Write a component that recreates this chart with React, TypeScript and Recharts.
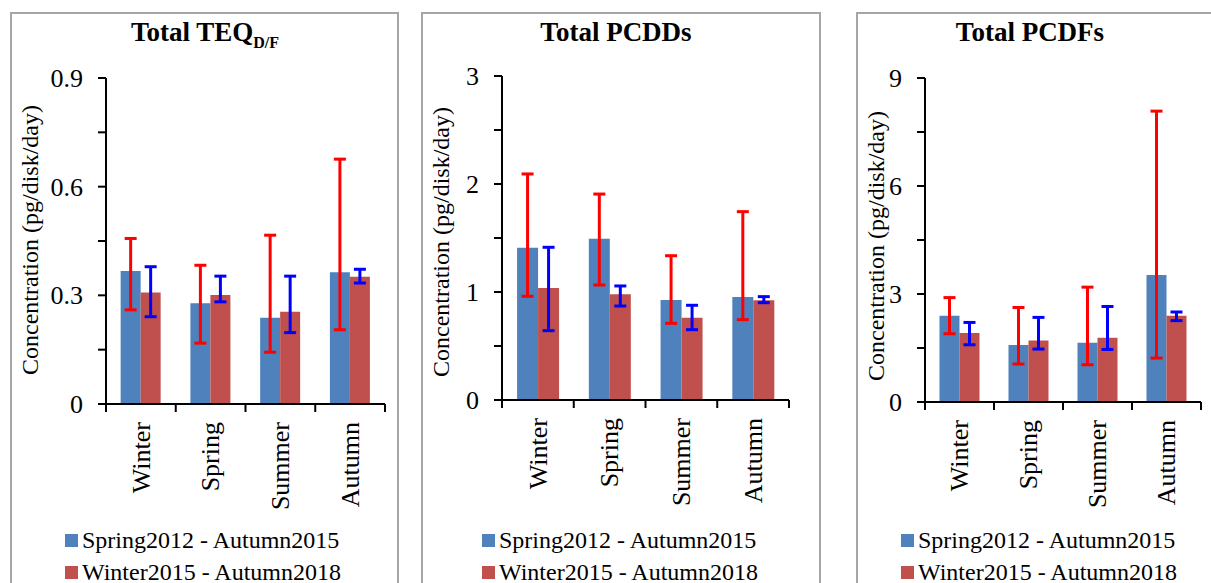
import React from 'react'
import { Bar, BarChart, ErrorBar, Legend, XAxis, YAxis } from 'recharts'

const SEASONS = ['Winter', 'Spring', 'Summer', 'Autumn']
const SERIES_NAMES = ['Spring2012 - Autumn2015', 'Winter2015 - Autumn2018']
const Y_TITLE = 'Concentration (pg/disk/day)'

// Total TEQ D/F
const TEQ_EARLY = [0.367, 0.278, 0.238, 0.364]
const TEQ_EARLY_LOW = [0.26, 0.168, 0.143, 0.205]
const TEQ_EARLY_HIGH = [0.457, 0.383, 0.466, 0.676]
const TEQ_LATE = [0.308, 0.301, 0.255, 0.351]
const TEQ_LATE_LOW = [0.241, 0.282, 0.197, 0.334]
const TEQ_LATE_HIGH = [0.379, 0.353, 0.353, 0.372]
const TEQ_TICKS = [0, 0.15, 0.3, 0.45, 0.6, 0.75, 0.9]

// Total PCDDs
const PCDD_EARLY = [1.41, 1.494, 0.926, 0.954]
const PCDD_EARLY_LOW = [0.96, 1.065, 0.71, 0.744]
const PCDD_EARLY_HIGH = [2.093, 1.907, 1.336, 1.744]
const PCDD_LATE = [1.037, 0.979, 0.762, 0.923]
const PCDD_LATE_LOW = [0.642, 0.87, 0.651, 0.901]
const PCDD_LATE_HIGH = [1.414, 1.056, 0.877, 0.957]
const PCDD_TICKS = [0, 0.5, 1, 1.5, 2, 2.5, 3]

// Total PCDFs
const PCDF_EARLY = [2.395, 1.58, 1.645, 3.53]
const PCDF_EARLY_LOW = [1.895, 1.054, 1.035, 1.22]
const PCDF_EARLY_HIGH = [2.9, 2.625, 3.19, 8.08]
const PCDF_LATE = [1.914, 1.71, 1.784, 2.395]
const PCDF_LATE_LOW = [1.59, 1.47, 1.46, 2.26]
const PCDF_LATE_HIGH = [2.21, 2.35, 2.653, 2.5]
const PCDF_TICKS = [0, 1.5, 3, 4.5, 6, 7.5, 9]

const BLUE = '#4f81bd'
const RED = '#c0504d'
const CHART_H = 580
const FONT = '"Liberation Serif", "Times New Roman", serif'

function buildRows(
  early: number[],
  earlyLow: number[],
  earlyHigh: number[],
  late: number[],
  lateLow: number[],
  lateHigh: number[],
) {
  return SEASONS.map((season, i) => ({
    season,
    early: early[i],
    earlyErr: [early[i] - earlyLow[i], earlyHigh[i] - early[i]],
    late: late[i],
    lateErr: [late[i] - lateLow[i], lateHigh[i] - late[i]],
  }))
}

function SeasonTick(props: any) {
  const { x, y, payload, index, visibleTicksCount, width } = props
  const half = payload.offset ? payload.offset : width / visibleTicksCount / 2
  const ty = y + 18
  return (
    <g>
      <line x1={x - half} x2={x - half} y1={y} y2={y + 8} stroke="#000" strokeWidth={2} />
      {index === visibleTicksCount - 1 && (
        <line x1={x + half} x2={x + half} y1={y} y2={y + 8} stroke="#000" strokeWidth={2} />
      )}
      <text
        x={x}
        y={ty}
        transform={`rotate(-90, ${x}, ${ty})`}
        textAnchor="end"
        dy="0.34em"
        fontSize={26}
        fontFamily={FONT}
        fill="#000"
      >
        {payload.value}
      </text>
    </g>
  )
}

function ValueTick(props: any) {
  const { x, y, payload, index } = props
  if (index % 2 !== 0) return null
  return (
    <text
      x={x}
      y={y}
      textAnchor="end"
      dy="0.34em"
      fontSize={26}
      fontFamily={FONT}
      fill="#000"
    >
      {String(payload.value)}
    </text>
  )
}

function YTitle(props: any) {
  const { viewBox, cx, shift, fallbackTop, fallbackBottom } = props
  const top = viewBox && viewBox.height ? viewBox.y : fallbackTop
  const h = viewBox && viewBox.height ? viewBox.height : fallbackBottom - fallbackTop
  const cy = top + h / 2 + shift
  return (
    <text
      x={cx}
      y={cy}
      transform={`rotate(-90, ${cx}, ${cy})`}
      textAnchor="middle"
      dy="0.34em"
      fontSize={24}
      fontFamily={FONT}
      fill="#000"
    >
      {Y_TITLE}
    </text>
  )
}

function renderLegend(props: any) {
  const items = props.payload || []
  return (
    <div style={{ fontFamily: FONT }}>
      {items.map((entry: any) => (
        <div
          key={entry.value}
          style={{
            display: 'flex',
            alignItems: 'center',
            height: 32,
            fontSize: 24,
            fontFamily: FONT,
            color: '#000',
            whiteSpace: 'nowrap',
          }}
        >
          <span style={{ width: 13, height: 13, background: entry.color, marginRight: 4 }} />
          {entry.value}
        </div>
      ))}
    </div>
  )
}

interface PanelProps {
  left: number
  width: number
  title: React.ReactNode
  titleX: number
  rows: ReturnType<typeof buildRows>
  ticks: number[]
  axisX: number
  right: number
  plotTop: number
  plotBottom: number
  labelShift: number
  legendX: number
}

function Panel(p: PanelProps) {
  const domain: [number, number] = [p.ticks[0], p.ticks[p.ticks.length - 1]]
  return (
    <div
      style={{
        position: 'absolute',
        left: p.left,
        top: 12,
        width: p.width,
        height: 600,
        border: '2px solid #a6a6a6',
        boxSizing: 'border-box',
      }}
    >
      <div
        style={{
          position: 'absolute',
          left: p.titleX - 150,
          width: 300,
          top: 5,
          textAlign: 'center',
          fontWeight: 'bold',
          fontSize: 27,
          lineHeight: '27px',
          fontFamily: FONT,
          whiteSpace: 'nowrap',
        }}
      >
        {p.title}
      </div>
      <BarChart
        width={p.width - 4}
        height={CHART_H}
        data={p.rows}
        margin={{ top: p.plotTop, right: p.right, left: 0, bottom: 0 }}
        barCategoryGap="21%"
        barGap={0}
        style={{ fontFamily: FONT }}
      >
        <XAxis
          dataKey="season"
          height={CHART_H - p.plotBottom}
          interval={0}
          tickLine={false}
          tickSize={0}
          tickMargin={0}
          axisLine={{ stroke: '#000', strokeWidth: 2 }}
          tick={<SeasonTick />}
        />
        <YAxis
          type="number"
          domain={domain}
          ticks={p.ticks}
          interval={0}
          width={p.axisX}
          tickSize={8}
          tickMargin={15}
          axisLine={{ stroke: '#000', strokeWidth: 2 }}
          tickLine={{ stroke: '#000', strokeWidth: 2 }}
          tick={<ValueTick />}
          label={
            <YTitle
              cx={18}
              shift={p.labelShift}
              fallbackTop={p.plotTop}
              fallbackBottom={p.plotBottom}
            />
          }
        />
        <Legend
          layout="vertical"
          align="center"
          verticalAlign="middle"
          wrapperStyle={{ left: p.legendX, top: 510, width: 'auto' }}
          content={renderLegend}
        />
        <Bar dataKey="early" name={SERIES_NAMES[0]} fill={BLUE} isAnimationActive={false}>
          <ErrorBar dataKey="earlyErr" width={6} stroke="#ff0000" strokeWidth={3} />
        </Bar>
        <Bar dataKey="late" name={SERIES_NAMES[1]} fill={RED} isAnimationActive={false}>
          <ErrorBar dataKey="lateErr" width={6} stroke="#0000ff" strokeWidth={3} />
        </Bar>
      </BarChart>
    </div>
  )
}

export default function App() {
  const teq = buildRows(TEQ_EARLY, TEQ_EARLY_LOW, TEQ_EARLY_HIGH, TEQ_LATE, TEQ_LATE_LOW, TEQ_LATE_HIGH)
  const pcdd = buildRows(PCDD_EARLY, PCDD_EARLY_LOW, PCDD_EARLY_HIGH, PCDD_LATE, PCDD_LATE_LOW, PCDD_LATE_HIGH)
  const pcdf = buildRows(PCDF_EARLY, PCDF_EARLY_LOW, PCDF_EARLY_HIGH, PCDF_LATE, PCDF_LATE_LOW, PCDF_LATE_HIGH)

  return (
    <div
      style={{
        position: 'absolute',
        left: 0,
        top: 0,
        width: 1211,
        height: 583,
        overflow: 'hidden',
        background: '#fff',
        fontFamily: FONT,
      }}
    >
      <Panel
        left={10}
        width={389}
        title={
          <>
            Total TEQ
            <span style={{ fontSize: 16, position: 'relative', top: 7 }}>D/F</span>
          </>
        }
        titleX={193}
        rows={teq}
        ticks={TEQ_TICKS}
        axisX={94}
        right={12}
        plotTop={64}
        plotBottom={390}
        labelShift={-1}
        legendX={53}
      />
      <Panel
        left={421}
        width={400}
        title="Total PCDDs"
        titleX={193}
        rows={pcdd}
        ticks={PCDD_TICKS}
        axisX={79}
        right={30}
        plotTop={62}
        plotBottom={386}
        labelShift={4}
        legendX={59}
      />
      <Panel
        left={856}
        width={360}
        title="Total PCDFs"
        titleX={172}
        rows={pcdf}
        ticks={PCDF_TICKS}
        axisX={67}
        right={13}
        plotTop={64}
        plotBottom={388}
        labelShift={6}
        legendX={43}
      />
    </div>
  )
}
